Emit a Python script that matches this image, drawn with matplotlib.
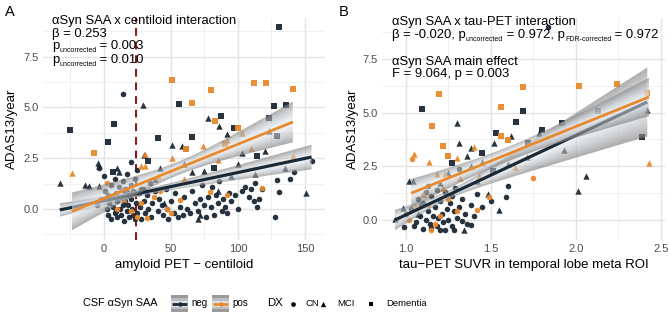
import numpy as np
import matplotlib
matplotlib.use('Agg')
import matplotlib.pyplot as plt
from matplotlib.patches import Rectangle, Polygon

plt.rcParams['font.family'] = ['Liberation Sans', 'DejaVu Sans']

W, H = 669, 316
fig = plt.figure(figsize=(W / 100, H / 100), dpi=100)

NEG = '#1b2936'
POS = '#e8892c'

# ---------------- data ----------------
dx_levels = ['CN', 'MCI', 'Dementia']
saa_levels = ['neg', 'pos']

# Panel A: amyloid PET centiloid vs ADAS13/year
a_neg_cn = [(-5, 0.2), (-2, 0.5), (0, 1.6), (1, 0.9), (2, 0.0), (3, -0.3), (4, 0.3), (5, 1.2), (5, -0.5),
            (6, 0.6), (7, 0.1), (8, 1.5), (8, -0.2), (9, 0.8), (10, 0.4), (10, -0.4), (11, 1.1), (12, 0.0),
            (12, 0.6), (13, -0.3), (14, 1.4), (14, 0.2), (15, 0.9), (15, -0.6), (16, 0.4), (17, 1.7),
            (17, -0.1), (18, 0.7), (18, 0.2), (19, -0.4), (20, 1.2), (20, 0.5), (21, 0.0), (22, 0.9),
            (22, -0.3), (23, 1.5), (24, 0.3), (25, -0.2), (26, 0.8), (27, 0.1), (28, -0.5), (29, 1.0),
            (30, 0.4), (31, -0.2), (32, 0.7), (33, 0.0), (34, 1.3), (35, -0.4), (36, 0.3), (38, 0.9),
            (40, -0.1), (41, 0.5), (43, 0.2), (44, -0.3), (46, 1.0), (47, 0.0), (48, -0.5), (50, 0.4),
            (52, -0.2), (53, 0.8), (55, -0.4), (57, 0.1), (59, -0.3), (60, 0.6), (62, 0.0), (64, -0.2),
            (66, 0.9), (68, 0.3), (70, -0.1), (72, 0.5), (73, 1.2), (75, 0.2), (76, -0.4), (78, 0.6),
            (80, 0.1), (81, 1.1), (82, -0.3), (84, 0.7), (85, 0.3), (86, 1.4), (88, -0.1), (89, 0.5),
            (90, 0.1), (92, -0.2), (93, 0.8), (95, 0.4), (98, 0.7), (100, 0.0), (103, 0.9), (105, 1.1),
            (108, 0.6), (110, 1.0), (112, 0.4), (113, 1.3), (114, 0.1), (116, 0.5), (118, 1.0),
            (128, -0.4), (129, 1.43), (131, 0.85), (139, 1.48), (142, 1.8), (155, 2.37), (-4, 2.0),
            (14, 5.67), (25, 1.9), (20, 2.3), (28, 1.0), (3, 0.7), (9, -0.1), (16, 1.0), (23, -0.5)]
a_neg_mci = [(-33, 1.3), (-14, 1.18), (-11, 1.15), (-3.5, 1.15), (-4.5, 2.26), (-4, 2.1), (11, 1.8),
             (29, 5.1), (30, 2.66), (51, 3.15), (58, 3.1), (66, 1.8), (75, 1.87), (78, 4.5), (86, 4.1),
             (92, 3.7), (103, 2.75), (120, 2.85), (113, 1.7), (135, 2.0), (151, 0.8), (123, 3.85),
             (70, -0.5), (45, 0.3), (38, 1.5), (85, 0.9), (100, 2.2), (60, 2.2), (72, -0.3), (95, 1.6),
             (17, 1.0), (10, 2.0), (42, 2.0)]
a_neg_dem = [(131, 8.97), (56, 5.15), (127, 5.07), (136, 5.1), (-25, 3.9), (7.7, 4.2), (87, 4.6), (97, 4.0),
             (123, 4.5), (66, 3.55), (129, 3.6), (3, 3.3), (61, 2.95), (33, 2.37), (7, 1.8), (114, 2.6),
             (82, 2.0), (40, 3.5)]
a_pos_cn = [(79, 0.85), (118, 1.03), (92, 0.7), (32, -0.45), (47, 0.0), (57, 0.45), (2, 1.3), (28, 0.3),
            (20, -0.1), (37, 0.6), (10, 0.0), (50, -0.2), (42, 0.9), (25, -0.4)]
a_pos_mci = [(74, 3.1), (92, 3.4), (31, 2.7), (28, 2.1), (31, 2.1), (51, 2.5), (-24, 1.77), (103, 3.75),
             (141, 2.6), (60, 1.5), (85, 2.4), (110, 3.0), (40, 1.6), (15, 0.5), (22, 0.8)]
a_pos_dem = [(51, 6.35), (112, 6.2), (121, 6.2), (141, 5.9), (80, 5.86), (66, 5.2), (83, 4.35), (-7.5, 2.76),
             (61, 2.95), (90, 3.2), (100, 4.0)]

# Panel B: tau-PET SUVR vs ADAS13/year
b_neg_cn = [(1.835, 8.98), (0.99, -0.33), (1.05, -0.3), (1.1, -0.42), (1.2, -0.47), (1.28, -0.45),
            (1.38, -0.23), (1.33, -0.05), (1.31, 2.37), (1.60, 1.6), (1.59, 1.07), (1.0, 0.3), (1.03, 0.5),
            (1.06, -0.1), (1.08, 0.2), (1.1, 0.8), (1.12, 0.0), (1.13, 0.4), (1.14, -0.2), (1.15, 1.1),
            (1.16, 0.2), (1.17, 0.6), (1.18, -0.3), (1.19, 0.1), (1.2, 0.9), (1.21, 0.3), (1.22, -0.1),
            (1.23, 1.3), (1.24, 0.5), (1.25, 0.0), (1.26, 0.8), (1.27, -0.3), (1.28, 0.4), (1.29, 1.5),
            (1.3, 0.1), (1.31, 0.6), (1.33, 1.0), (1.35, 0.3), (1.36, -0.2), (1.38, 0.7), (1.4, 0.2),
            (1.42, 1.2), (1.45, 0.6), (1.5, 0.9), (1.13, 1.6), (1.18, 1.4), (1.09, 0.7), (1.23, -0.45),
            (1.15, -0.35), (1.07, 1.0), (1.27, 1.1), (1.12, 1.3)]
b_neg_mci = [(1.30, 4.5), (1.78, 4.05), (2.42, 5.1), (1.31, 3.6), (1.38, 3.33), (1.36, 2.97), (1.38, 2.5),
             (1.02, 1.8), (1.04, 1.8), (1.48, 1.2), (1.55, 0.47), (2.06, 2.05), (2.01, 1.35), (1.93, 3.26),
             (1.71, 2.93), (1.34, -0.47), (0.935, 0.05), (0.98, 0.55), (1.1, 1.2), (1.2, 1.7), (1.25, 2.2),
             (1.45, 2.7), (1.52, 3.6), (1.62, 3.9), (1.42, 1.8), (1.6, 2.6), (1.07, 0.3)]
b_neg_dem = [(1.094, 5.16), (1.69, 5.07), (1.65, 4.57), (1.53, 4.04), (1.92, 4.5), (2.13, 5.08), (2.39, 3.85),
             (1.51, 2.28), (1.72, 3.57), (1.27, 2.65), (1.8, 4.2), (1.45, 3.1)]
b_pos_cn = [(1.035, 2.84), (1.49, 1.05), (1.75, 1.95), (1.15, -0.47), (1.02, 0.0), (1.42, 0.47), (1.06, 0.6),
            (1.2, 0.2), (1.25, 1.0), (1.13, 0.7), (1.3, 0.4), (1.17, -0.2)]
b_pos_mci = [(1.05, 3.07), (1.135, 2.7), (1.18, 2.14), (1.23, 2.14), (1.32, 1.94), (1.43, 2.05), (1.64, 2.47),
             (2.43, 2.65), (1.3, 2.9), (1.1, 1.2), (1.22, 1.5), (1.4, 3.4)]
b_pos_dem = [(1.194, 5.86), (1.153, 4.37), (1.69, 6.2), (1.56, 5.24), (1.56, 3.9), (2.02, 6.23), (2.24, 6.35),
             (2.42, 5.9), (1.22, 3.44), (1.25, 2.98), (1.6, 3.7)]

# regression fits (order: neg, pos)
a_fit_xmin = [-33, -24]
a_fit_xmax = [155, 141]
a_fit_intercept = [0.408, 0.52]
a_fit_slope = [0.01388, 0.0267]
a_ci_center = [30, 55]
a_ci_min = [0.15, 0.33]
a_ci_growth = [0.0047, 0.011]

b_fit_xmin = [0.935, 1.03]
b_fit_xmax = [2.42, 2.43]
b_fit_intercept = [-3.46, -2.05]
b_fit_slope = [3.70, 3.20]
b_ci_center = [1.25, 1.6]
b_ci_min = [0.2, 0.33]
b_ci_growth = [1.36, 1.0]

a_cutoff = 24

# ---------------- layout helpers ----------------
def px_axes(left, top, right, bottom, **kw):
    return fig.add_axes([left / W, 1 - bottom / H, (right - left) / W, (bottom - top) / H], **kw)

markers = {'CN': 'o', 'MCI': '^', 'Dementia': 's'}
msizes = {'CN': 16, 'MCI': 21, 'Dementia': 14}
colors = {'neg': NEG, 'pos': POS}


def style_axes(ax, xmaj, xmin_, xlabels, ymaj, ymin_, ylabels, xlim, ylim):
    ax.set_xlim(*xlim)
    ax.set_ylim(*ylim)
    ax.set_xticks(xmaj)
    ax.set_xticklabels(xlabels)
    ax.set_xticks(xmin_, minor=True)
    ax.set_yticks(ymaj)
    ax.set_yticklabels(ylabels)
    ax.set_yticks(ymin_, minor=True)
    ax.grid(which='major', color='#e4e4e4', lw=1.0, zorder=0)
    ax.grid(which='minor', color='#efefef', lw=0.6, zorder=0)
    ax.set_axisbelow(True)
    for s in ax.spines.values():
        s.set_visible(False)
    ax.tick_params(which='both', length=0, labelsize=8, labelcolor='#4d4d4d', pad=3)


def draw_points(ax, groups):
    for saa, dxd in groups.items():
        for dx, pts in dxd.items():
            arr = np.array(pts, dtype=float)
            ax.scatter(arr[:, 0], arr[:, 1], marker=markers[dx], s=msizes[dx], c=colors[saa],
                       linewidths=0, zorder=2, alpha=0.95)


C_CENTER = np.array([0.90, 0.93, 0.96])
C_EDGE = np.array([0.50, 0.50, 0.50])


def gradient_ribbon(ax, xs, yc, hw, zorder):
    lo, hi = yc - hw, yc + hw
    verts = np.concatenate([np.column_stack([xs, lo]), np.column_stack([xs[::-1], hi[::-1]])])
    poly = Polygon(verts, closed=True, facecolor='none', edgecolor='none')
    ax.add_patch(poly)
    y0, y1 = lo.min(), hi.max()
    gx = np.linspace(xs[0], xs[-1], 300)
    gy = np.linspace(y0, y1, 300)
    GX, GY = np.meshgrid(gx, gy)
    YC = np.interp(GX, xs, yc)
    HW = np.interp(GX, xs, hw)
    rel = np.clip(np.abs(GY - YC) / HW, 0, 1) ** 1.3
    rgb = C_CENTER[None, None, :] * (1 - rel[..., None]) + C_EDGE[None, None, :] * rel[..., None]
    alpha = 0.55 + 0.1 * rel
    rgba = np.dstack([rgb, alpha])
    im = ax.imshow(rgba, extent=(xs[0], xs[-1], y0, y1), origin='lower', aspect='auto',
                   zorder=zorder, interpolation='bilinear')
    im.set_clip_path(poly)


def draw_fits(ax, xmin_l, xmax_l, b0_l, b1_l, cc_l, h0_l, k_l):
    for i, saa in enumerate(saa_levels):
        xs = np.linspace(xmin_l[i], xmax_l[i], 120)
        yc = b0_l[i] + b1_l[i] * xs
        hw = np.sqrt(h0_l[i] ** 2 + (k_l[i] * (xs - cc_l[i])) ** 2)
        gradient_ribbon(ax, xs, yc, hw, 3 + i)
        ax.plot(xs, yc, color=colors[saa], lw=2.3 if saa == 'neg' else 2.0, zorder=3.5 + i,
                solid_capstyle='butt')


# ---------------- panel A ----------------
axA = px_axes(43, 18, 325, 240)
style_axes(axA, [0, 50, 100, 150], [-25, 25, 75, 125], ['0', '50', '100', '150'],
           [0, 2.5, 5, 7.5], [-1.25, 1.25, 3.75, 6.25, 8.75], ['0.0', '2.5', '5.0', '7.5'],
           (-45.5, 165), (-1.53, 9.41))
axA.axvline(a_cutoff, color='#8b1414', lw=1.4, ls=(0, (4, 3)), zorder=1.5)
draw_points(axA, {'neg': {'CN': a_neg_cn, 'MCI': a_neg_mci, 'Dementia': a_neg_dem},
                  'pos': {'CN': a_pos_cn, 'MCI': a_pos_mci, 'Dementia': a_pos_dem}})
draw_fits(axA, a_fit_xmin, a_fit_xmax, a_fit_intercept, a_fit_slope, a_ci_center, a_ci_min, a_ci_growth)
axA.set_xlabel('amyloid PET \u2212 centiloid', fontsize=9.5)
axA.set_ylabel('ADAS13/year', fontsize=9.5)
axA.xaxis.set_label_coords(0.5, -(265 - 240) / 222)
axA.xaxis.label.set_va('center')
axA.yaxis.set_label_coords((12 - 43) / 282, 0.5)
axA.yaxis.label.set_va('center')

# ---------------- panel B ----------------
axB = px_axes(382, 18, 665, 240)
style_axes(axB, [1.0, 1.5, 2.0, 2.5], [1.25, 1.75, 2.25], ['1.0', '1.5', '2.0', '2.5'],
           [0, 2.5, 5, 7.5], [1.25, 3.75, 6.25, 8.75], ['0.0', '2.5', '5.0', '7.5'],
           (0.859, 2.524), (-0.93, 9.40))
draw_points(axB, {'neg': {'CN': b_neg_cn, 'MCI': b_neg_mci, 'Dementia': b_neg_dem},
                  'pos': {'CN': b_pos_cn, 'MCI': b_pos_mci, 'Dementia': b_pos_dem}})
draw_fits(axB, b_fit_xmin, b_fit_xmax, b_fit_intercept, b_fit_slope, b_ci_center, b_ci_min, b_ci_growth)
axB.set_xlabel('tau\u2212PET SUVR in temporal lobe meta ROI', fontsize=9.5)
axB.set_ylabel('ADAS13/year', fontsize=9.5)
axB.xaxis.set_label_coords(0.5, -(265 - 240) / 222)
axB.xaxis.label.set_va('center')
axB.yaxis.set_label_coords((353 - 382) / 283, 0.5)
axB.yaxis.label.set_va('center')

# ---------------- overlay (texts & legend) ----------------
ov = fig.add_axes([0, 0, 1, 1], zorder=10)
ov.set_xlim(0, W)
ov.set_ylim(H, 0)
ov.axis('off')
ov.patch.set_alpha(0)
renderer = fig.canvas.get_renderer()

BIG = 9.4
SUB = 5.0


def rich(x, y, pieces):
    for s, size, dy in pieces:
        t = ov.text(x, y + dy, s, fontsize=size, va='baseline', ha='left', color='black', clip_on=False)
        bb = t.get_window_extent(renderer=renderer)
        x += bb.width


ov.text(5, 16, 'A', fontsize=10.5, va='baseline', ha='left')
ov.text(339, 16, 'B', fontsize=10.5, va='baseline', ha='left')

rich(52, 24, [('\u03b1Syn SAA x centiloid interaction', BIG, 0)])
rich(52, 37, [('\u03b2 = 0.253', BIG, 0)])
rich(52, 49, [('p', BIG, 0), ('uncorrected', SUB, 3), (' = 0.003', BIG, 0)])
rich(52, 63, [('p', BIG, 0), ('uncorrected', SUB, 3), (' = 0.010', BIG, 0)])

rich(392, 25, [('\u03b1Syn SAA x tau-PET interaction', BIG, 0)])
rich(392, 38, [('\u03b2 = -0.020, p', BIG, 0), ('uncorrected', SUB, 3), (' = 0.972, p', BIG, 0),
               ('FDR-corrected', SUB, 3), (' = 0.972', BIG, 0)])
rich(392, 65, [('\u03b1Syn SAA main effect', BIG, 0)])
rich(392, 77, [('F = 9.064, p = 0.003', BIG, 0)])

# legend
LY = 303.5
ov.text(83, LY, 'CSF \u03b1Syn SAA', fontsize=7.8, va='center', ha='left')
for kx, saa, lab in [(171, 'neg', 'neg'), (212, 'pos', 'pos')]:
    ov.add_patch(Rectangle((kx, LY - 8.5), 17, 17, facecolor='#9a9a9a', edgecolor='none'))
    ov.add_patch(Rectangle((kx, LY - 5.5), 17, 11, facecolor='#b9bec3', edgecolor='none'))
    ov.add_patch(Rectangle((kx, LY - 3), 17, 6, facecolor='#d9dfe4', edgecolor='none'))
    ov.plot([kx + 1, kx + 16], [LY, LY], color=colors[saa], lw=2.0, solid_capstyle='butt')
    ov.scatter([kx + 8.5], [LY], marker='o', s=10, c=colors[saa], linewidths=0)
    ov.text(kx + 20, LY, lab, fontsize=7.0, va='center', ha='left')

ov.text(267, LY, 'DX', fontsize=8.2, va='center', ha='left')
for mx, dx, tx in [(293, 'CN', 306), (323, 'MCI', 337), (371, 'Dementia', 386)]:
    ov.scatter([mx], [LY], marker=markers[dx], s=msizes[dx] * 0.7, c='black', linewidths=0)
    ov.text(tx, LY, dx, fontsize=6.8, va='center', ha='left')

fig.savefig('out.png', dpi=100)
